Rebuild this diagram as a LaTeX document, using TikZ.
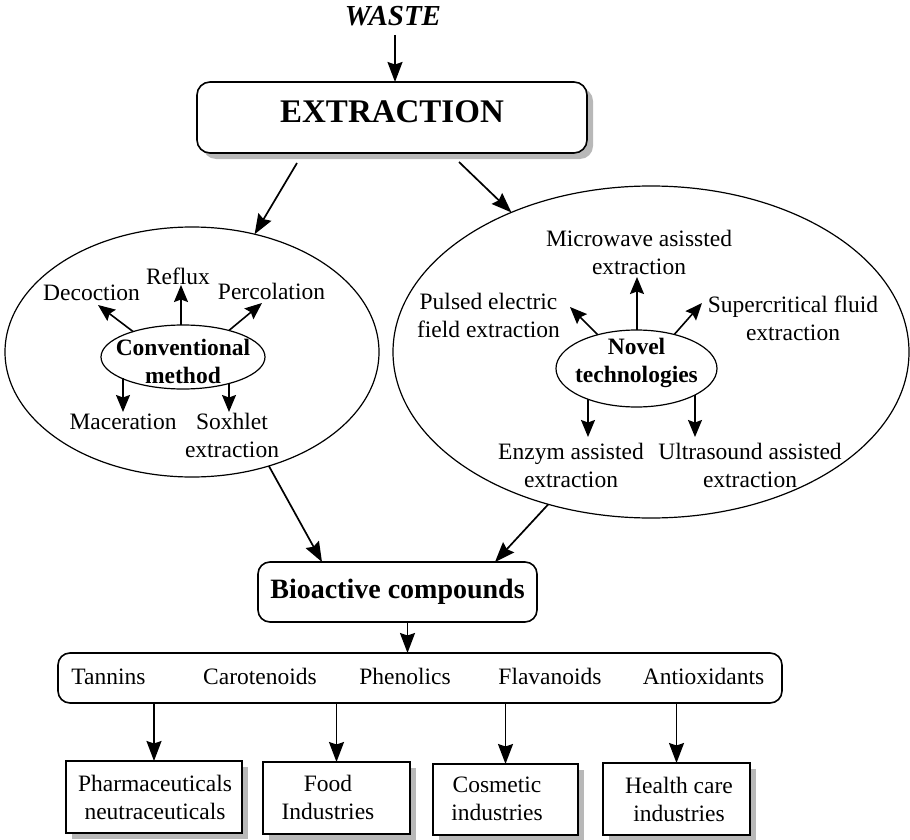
\documentclass[tikz,border=0pt]{standalone}
\usepackage{fontspec}
\setmainfont{Liberation Serif}
\usetikzlibrary{arrows.meta,shapes.geometric,shadows}
\begin{document}
\begin{tikzpicture}[x=1pt,y=-1pt,
  every node/.style={font=\fontsize{23.5}{28}\selectfont, inner sep=0pt, outer sep=0pt},
  arr/.style={line width=1.7pt, -{Stealth[length=20pt,width=15pt,inset=2.5pt]}},
  sarr/.style={line width=1.6pt, -{Stealth[length=17pt,width=14pt,inset=2.5pt]}},
  shadowed/.style={drop shadow={shadow xshift=6pt, shadow yshift=-6pt, fill=black!28, opacity=1}},
  rbox/.style={draw, line width=1.6pt, rounded corners=13pt, fill=white},
  sqbox/.style={draw, line width=1.7pt, fill=white, shadowed},
  oval/.style={draw, ellipse, line width=1.2pt},
  lbl/.style={align=center},
  boldlbl/.style={align=center, font=\fontsize{23.5}{28}\selectfont\bfseries},
]
\useasboundingbox (0,0) rectangle (910,840);

% top
\node[font=\fontsize{29}{32}\selectfont\bfseries\itshape] (waste) at (393,16) {WASTE};
\node[rbox, shadowed, minimum width=390, minimum height=71] (extr) at (392,117.5) {};
\node[font=\fontsize{33}{36}\selectfont\bfseries] (extrlbl) at ([yshift=6pt]extr.center) {EXTRACTION};

% ellipses
\node[oval, minimum width=374, minimum height=250] (lell) at (192,352) {};
\node[oval, minimum width=516, minimum height=332] (rell) at (651,352) {};

% conventional
\node[oval, minimum width=164, minimum height=64] (conv) at (183,357) {};
\node[boldlbl] (convlbl) at (183,361) {Conventional\\method};
\node (dec) at (91.5,293) {Decoction};
\node (ref) at (178,276) {Reflux};
\node (per) at (271.5,291) {Percolation};
\node (mac) at (123,422) {Maceration};
\node[lbl] (sox) at (232,435) {Soxhlet\\extraction};

\coordinate (decA) at (98,305);
\coordinate (refA) at (181,285);
\coordinate (perA) at (262,303);
\coordinate (macA) at (123,412);
\coordinate (soxA) at (229,412);
\draw[sarr] (conv.153) -- (decA);
\draw[sarr] (refA |- conv.north) -- (refA);
\draw[sarr] (conv.30) -- (perA);
\draw[sarr] (macA |- conv.199) -- (macA);
\draw[sarr] (soxA |- conv.332) -- (soxA);

% novel
\node[oval, minimum width=161, minimum height=77] (novel) at (636.5,368.5) {};
\node[boldlbl] (novellbl) at (636.5,363) {Novel\\technologies};
\node[lbl] (mw) at (639,252) {Microwave asissted\\extraction};
\node[lbl] (pef) at (488.5,315) {Pulsed electric\\field extraction};
\node[lbl] (scf) at (793,318) {Supercritical fluid\\extraction};
\node[lbl] (enz) at (571,465) {Enzym assisted\\extraction};
\node[lbl] (ult) at (750,465) {Ultrasound assisted\\extraction};

\coordinate (mwA) at (637,277);
\coordinate (pefA) at (570,307);
\coordinate (scfA) at (702,303);
\coordinate (enzA) at (588,437);
\coordinate (ultA) at (695,437);
\draw[sarr] (mwA |- novel.north) -- (mwA);
\draw[sarr] (novel.139) -- (pefA);
\draw[sarr] (novel.42) -- (scfA);
\draw[sarr] (enzA |- novel.212) -- (enzA);
\draw[sarr] (ultA |- novel.336) -- (ultA);

% bioactive
\node[rbox, minimum width=279, minimum height=60, rounded corners=12pt,
      font=\fontsize{28}{32}\selectfont\bfseries] (bio) at (397.5,592) {Bioactive compounds};

% main arrows
\draw[arr, shorten <=9pt] ([xshift=2pt]waste.south) -- ([xshift=2pt]waste.south |- extr.north);
\draw[arr] ([xshift=100pt,yshift=-10pt]extr.south west) -- (lell.62);
\draw[arr] ([xshift=262pt,yshift=-9pt]extr.south west) -- (rell.135);
\draw[arr] (lell.304) -- ([xshift=64pt]bio.north west);
\draw[arr] (rell.236) -- ([xshift=-42pt]bio.north east);

% items
\node[rbox, minimum width=724, minimum height=50, rounded corners=12pt] (items) at (420,678) {};
\node[anchor=base] (tan) at (108.5,684) {Tannins};
\node[anchor=base] (car) at (260,684) {Carotenoids};
\node[anchor=base] (phe) at (405,684) {Phenolics};
\node[anchor=base] (fla) at (550,684) {Flavanoids};
\node[anchor=base] (ant) at (703.5,684) {Antioxidants};
\draw[arr] ([xshift=10pt]bio.south) -- ([xshift=10pt]bio.south |- items.north);

% bottom boxes
\node[sqbox, minimum width=176, minimum height=72] (b1) at (154,797) {};
\node[sqbox, minimum width=147, minimum height=72] (b2) at (336.5,798) {};
\node[sqbox, minimum width=145, minimum height=71] (b3) at (505.5,799.5) {};
\node[sqbox, minimum width=147, minimum height=72] (b4) at (676.5,799) {};
\node[lbl] (b1lbl) at (155,797) {Pharmaceuticals\\neutraceuticals};
\node[lbl] (b2lbl) at (328,797) {Food\\Industries};
\node[lbl] (b3lbl) at (497,799) {Cosmetic\\industries};
\node[lbl] (b4lbl) at (679,799) {Health care\\industries};

\draw[arr] (items.south -| b1.north) -- (b1.north);
\draw[arr] (items.south -| b2.north) -- (b2.north);
\draw[arr] (items.south -| b3.north) -- (b3.north);
\draw[arr] (items.south -| b4.north) -- (b4.north);
\end{tikzpicture}
\end{document}
